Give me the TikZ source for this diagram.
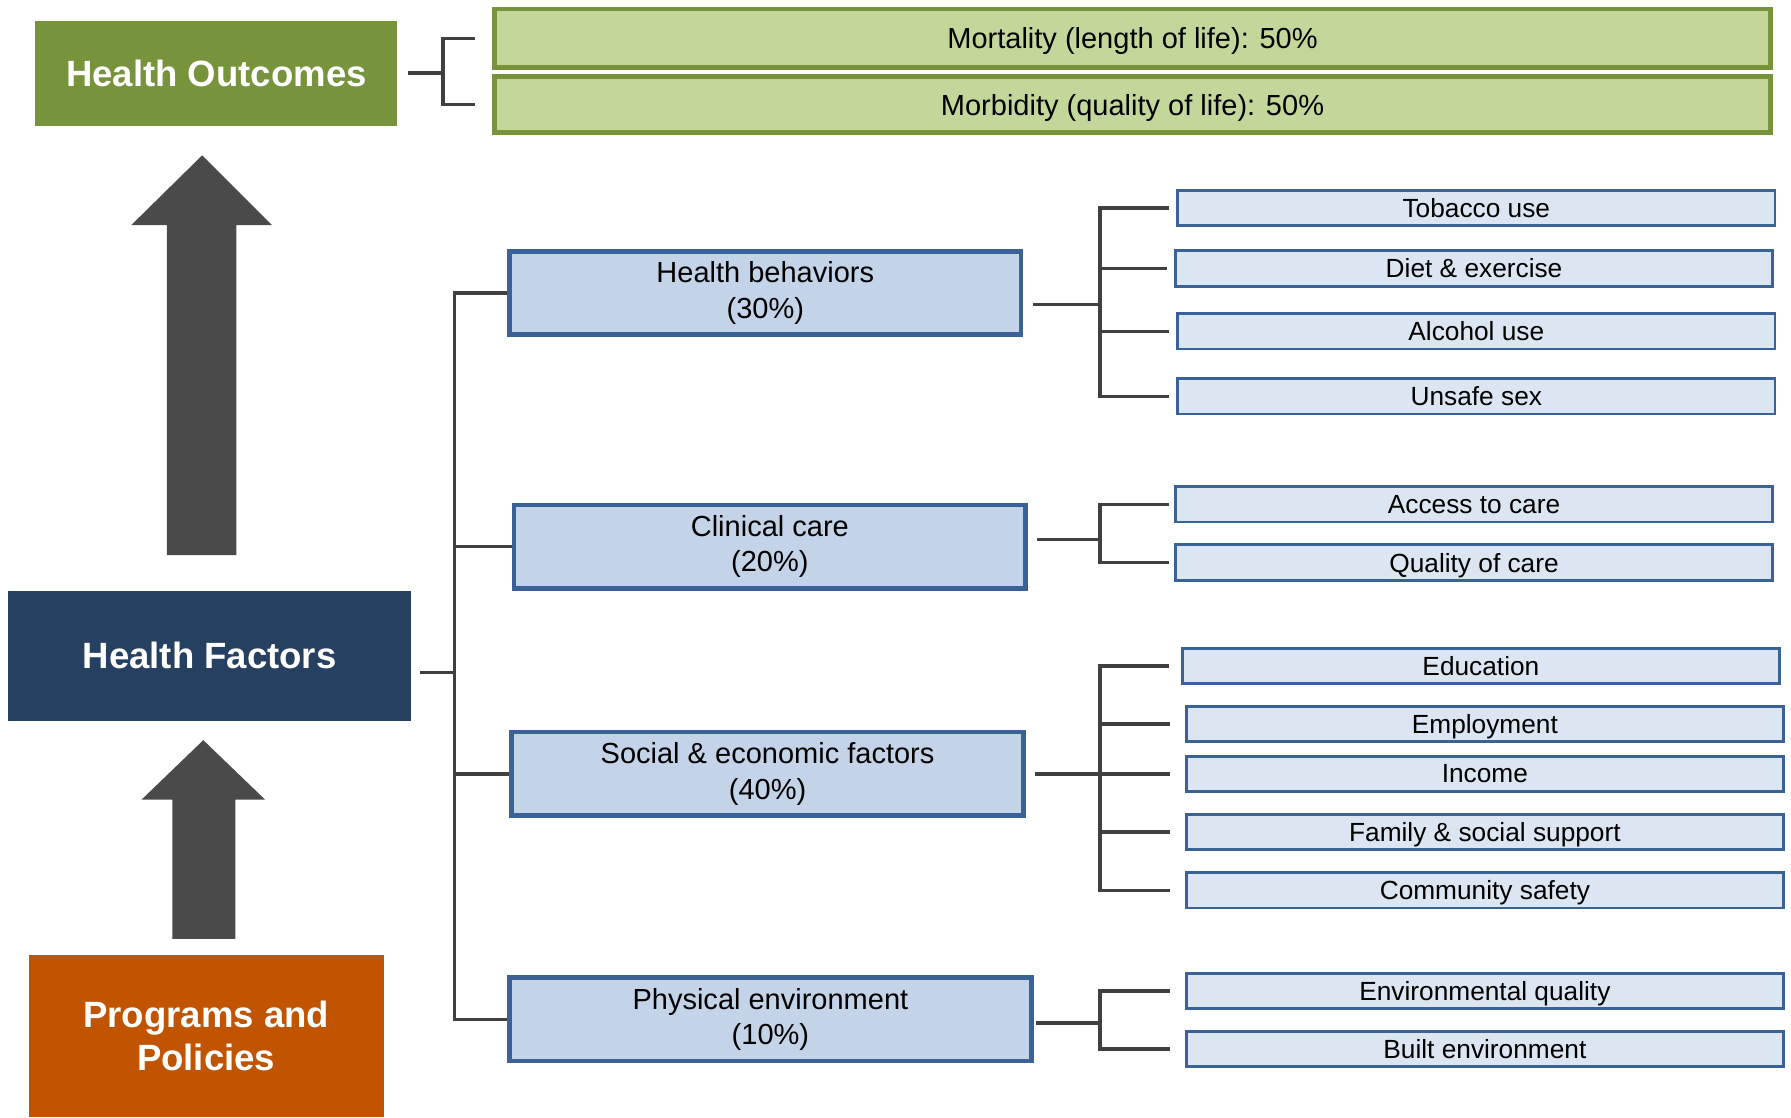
\documentclass[tikz,border=0pt]{standalone}
\usepackage{fontspec}
\setmainfont{Liberation Sans}
\usepackage{tikz}
\usetikzlibrary{positioning,calc}

\definecolor{outgreen}{HTML}{77933C}
\definecolor{outlight}{HTML}{C4D79B}
\definecolor{factnavy}{HTML}{254061}
\definecolor{progorange}{HTML}{C05400}
\definecolor{midfill}{HTML}{C3D3E8}
\definecolor{leaffill}{HTML}{DCE6F2}
\definecolor{boxblue}{HTML}{3A6296}
\definecolor{linegrey}{HTML}{404040}
\definecolor{arrowgrey}{HTML}{4A4A4A}

\tikzset{
  titlebox/.style={fill=#1, text=white, font=\fontsize{16}{19}\selectfont\bfseries, align=center, inner sep=0pt},
  outbox/.style={draw=outgreen, fill=outlight, line width=1.9pt, minimum width=558.5pt, font=\fontsize{12.7}{15.5}\selectfont, inner sep=0pt, text depth=0pt},
  midbox/.style={draw=boxblue, fill=midfill, line width=2pt, minimum height=36.5pt, align=center, font=\fontsize{12.7}{15.5}\selectfont, inner sep=0pt},
  leafbox/.style={draw=boxblue, fill=leaffill, line width=1.25pt, minimum width=261.5pt, minimum height=15.5pt, font=\fontsize{11.5}{13}\selectfont, inner sep=0pt, text depth=0pt},
  conn/.style={draw=linegrey, line width=1.5pt}
}

\begin{document}
\begin{tikzpicture}[x=0.5pt,y=-0.5pt]
\useasboundingbox (0,0) rectangle (1568,978);

% outcomes
\node[titlebox=outgreen, minimum width=158.5pt, minimum height=46pt] (ho) at (189.5,64) {Health Outcomes};
\node[outbox, minimum height=25.5pt] (mort) at (991.5,33.5) {Mortality (length of life): 50\%};
\node[outbox, minimum height=24.5pt] (morb) at (991.5,91.5) {Morbidity (quality of life): 50\%};

% factors and programs
\node[titlebox=factnavy, minimum width=176.5pt, minimum height=57pt] (hf) at (183.5,574) {Health Factors};
\node[titlebox=progorange, minimum width=155.5pt, minimum height=71pt] (pp) at (180.5,907) {Programs and\\Policies};

\fill[arrowgrey] (146,486) -- (146,197) -- (115,197) -- (177,136) -- (238,197) -- (207,197) -- (207,486) -- cycle;
\fill[arrowgrey] (151,822) -- (151,700) -- (124,700) -- (178,648) -- (232,700) -- (206,700) -- (206,822) -- cycle;

% middle level
\node[midbox, minimum width=224pt] (hb) at (670,256.5) {Health behaviors\\(30\%)};
\node[midbox, minimum width=224pt] (cc) at (674,478.5) {Clinical care\\(20\%)};
\node[midbox, minimum width=224pt] (se) at (672,677.5) {Social \& economic factors\\(40\%)};
\node[midbox, minimum width=228.5pt] (pe) at (674.5,892.5) {Physical environment\\(10\%)};

% leaves
\node[leafbox] (tob) at (1292.5,182) {Tobacco use};
\node[leafbox] (diet) at (1290.5,235) {Diet \& exercise};
\node[leafbox] (alc) at (1292.5,290) {Alcohol use};
\node[leafbox] (sex) at (1292.5,347) {Unsafe sex};
\node[leafbox] (acc) at (1290.5,441.5) {Access to care};
\node[leafbox] (qual) at (1290.5,492.5) {Quality of care};
\node[leafbox] (edu) at (1296.5,583) {Education};
\node[leafbox] (emp) at (1300,634) {Employment};
\node[leafbox] (inc) at (1300,677.5) {Income};
\node[leafbox] (fam) at (1300,728.5) {Family \& social support};
\node[leafbox] (saf) at (1300,779.5) {Community safety};
\node[leafbox] (env) at (1300,867.5) {Environmental quality};
\node[leafbox] (blt) at (1300,918.5) {Built environment};

\coordinate (obus) at (388,0);
\coordinate (fbus) at (398,0);
\coordinate (lbus) at (963,0);

% outcomes bracket
\draw[conn, shorten <=4.5pt] (ho.east) -- (ho.east -| obus);
\draw[conn, shorten <=7.5pt, shorten >=7.5pt] (mort.west) -- (mort.west -| obus) -- (morb.west -| obus) -- (morb.west);

% factors bus
\draw[conn, shorten <=3.5pt] ([yshift=-7.5pt]hf.east) -- ([yshift=-7.5pt]hf.east -| fbus);
\draw[conn] (hb.west) -- (hb.west -| fbus) -- (pe.west -| fbus) -- (pe.west);
\draw[conn] (cc.west -| fbus) -- (cc.west);
\draw[conn] (se.west -| fbus) -- (se.west);

% leaf buses
\draw[conn, shorten <=4pt] ([yshift=-5pt]hb.east) -- ([yshift=-5pt]hb.east -| lbus);
\draw[conn, shorten <=3pt, shorten >=3pt] (tob.west) -- (tob.west -| lbus) -- (sex.west -| lbus) -- (sex.west);
\draw[conn, shorten >=3pt] (diet.west -| lbus) -- (diet.west);
\draw[conn, shorten >=3pt] (alc.west -| lbus) -- (alc.west);

\draw[conn, shorten <=4pt] ([yshift=3pt]cc.east) -- ([yshift=3pt]cc.east -| lbus);
\draw[conn, shorten <=2pt, shorten >=2pt] (acc.west) -- (acc.west -| lbus) -- (qual.west -| lbus) -- (qual.west);

\draw[conn, shorten <=4pt] (se.east) -- (se.east -| lbus);
\draw[conn, shorten <=5pt, shorten >=6.5pt] (edu.west) -- (edu.west -| lbus) -- (saf.west -| lbus) -- (saf.west);
\draw[conn, shorten >=6.5pt] (emp.west -| lbus) -- (emp.west);
\draw[conn, shorten >=6.5pt] (inc.west -| lbus) -- (inc.west);
\draw[conn, shorten >=6.5pt] (fam.west -| lbus) -- (fam.west);

\draw[conn, shorten <=1pt] ([yshift=-1.5pt]pe.east) -- ([yshift=-1.5pt]pe.east -| lbus);
\draw[conn, shorten <=6.5pt, shorten >=6.5pt] (env.west) -- (env.west -| lbus) -- (blt.west -| lbus) -- (blt.west);
\end{tikzpicture}
\end{document}
